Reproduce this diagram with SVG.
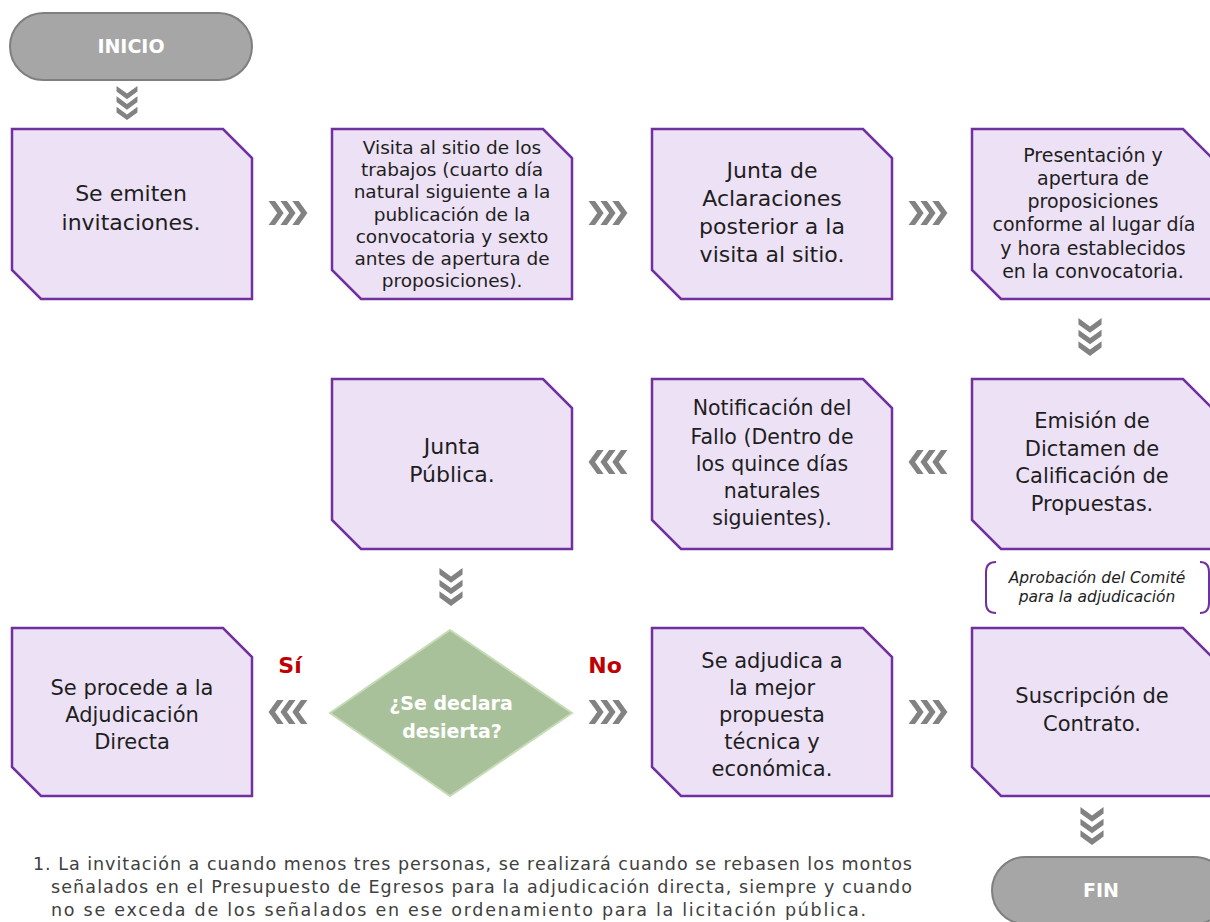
<svg xmlns="http://www.w3.org/2000/svg" xmlns:xlink="http://www.w3.org/1999/xlink" width="1210" height="922" viewBox="0 0 1210 922">
<style>
.node{fill:#ede1f5;stroke:#7030a0;stroke-width:2.5;stroke-linejoin:miter}
.t{font-family:"DejaVu Sans","Liberation Sans",sans-serif;fill:#1e1e1e;text-anchor:middle}
.term{fill:#a6a6a6;stroke:#7f7f7f;stroke-width:2}
.tt{font-family:"DejaVu Sans","Liberation Sans",sans-serif;fill:#ffffff;font-weight:bold;text-anchor:middle;font-size:19px}
.chev{fill:#828282}
.lbl{font-family:"DejaVu Sans","Liberation Sans",sans-serif;fill:#c00000;font-weight:bold;font-size:22px;text-anchor:middle}
.note{font-family:"DejaVu Sans","Liberation Sans",sans-serif;fill:#404040;font-size:17.5px}
</style>
<defs>
<g id="chev">
<polygon class="chev" points="-18,-11 -12,-11 -4,0 -12,11 -18,11 -10,0"/>
<polygon class="chev" points="-7,-11 -1,-11 7,0 -1,11 -7,11 1,0"/>
<polygon class="chev" points="4,-11 10,-11 18,0 10,11 4,11 12,0"/>
</g>
</defs>
<rect width="1210" height="922" fill="#ffffff"/>

<g id="connectors">
<use xlink:href="#chev" href="#chev" transform="translate(127,103) rotate(90) scale(0.95)"/>
<use xlink:href="#chev" href="#chev" transform="translate(288,213) scale(1.08)"/>
<use xlink:href="#chev" href="#chev" transform="translate(608,213) scale(1.08)"/>
<use xlink:href="#chev" href="#chev" transform="translate(928,213) scale(1.08)"/>
<use xlink:href="#chev" href="#chev" transform="translate(1090,337) rotate(90) scale(1.05)"/>
<use xlink:href="#chev" href="#chev" transform="translate(928,462) rotate(180) scale(1.08)"/>
<use xlink:href="#chev" href="#chev" transform="translate(608,462) rotate(180) scale(1.08)"/>
<use xlink:href="#chev" href="#chev" transform="translate(451,587) rotate(90) scale(1.05)"/>
<use xlink:href="#chev" href="#chev" transform="translate(288,712) rotate(180) scale(1.08)"/>
<use xlink:href="#chev" href="#chev" transform="translate(608,712) scale(1.08)"/>
<use xlink:href="#chev" href="#chev" transform="translate(928,712) scale(1.08)"/>
<use xlink:href="#chev" href="#chev" transform="translate(1092,826) rotate(90) scale(1.05)"/>
<text class="lbl" x="290" y="673">Sí</text>
<text class="lbl" x="605" y="673">No</text>
</g>

<g id="inicio">
<rect class="term" x="10" y="13" width="242" height="67" rx="33.5"/>
<text class="tt" x="131" y="53">INICIO</text>
</g>

<g id="n1">
<path class="node" d="M12,129 H223 L252,158 V299 H41 L12,270 Z"/>
<text class="t" font-size="22" x="131" y="201">Se emiten</text>
<text class="t" font-size="22" x="131" y="230">invitaciones.</text>
</g>

<g id="n2">
<path class="node" d="M332,129 H543 L572,158 V299 H361 L332,270 Z"/>
<g class="t" font-size="18.5">
<text x="452" y="154">Visita al sitio de los</text>
<text x="452" y="176">trabajos (cuarto día</text>
<text x="452" y="198">natural siguiente a la</text>
<text x="452" y="221">publicación de la</text>
<text x="452" y="243">convocatoria y sexto</text>
<text x="452" y="265">antes de apertura de</text>
<text x="452" y="287">proposiciones).</text>
</g>
</g>

<g id="n3">
<path class="node" d="M652,129 H863 L892,158 V299 H681 L652,270 Z"/>
<g class="t" font-size="22">
<text x="772" y="178">Junta de</text>
<text x="772" y="206">Aclaraciones</text>
<text x="772" y="234">posterior a la</text>
<text x="772" y="262">visita al sitio.</text>
</g>
</g>

<g id="n4">
<path class="node" d="M972,129 H1183 L1212,158 V299 H1001 L972,270 Z"/>
<g class="t" font-size="19">
<text x="1093" y="162">Presentación y</text>
<text x="1093" y="185">apertura de</text>
<text x="1093" y="208">proposiciones</text>
<text x="1094" y="231">conforme al lugar día</text>
<text x="1093" y="255">y hora establecidos</text>
<text x="1093" y="278">en la convocatoria.</text>
</g>
</g>

<g id="n5">
<path class="node" d="M972,379 H1183 L1212,408 V549 H1001 L972,520 Z"/>
<g class="t" font-size="21">
<text x="1092" y="428">Emisión de</text>
<text x="1092" y="456">Dictamen de</text>
<text x="1092" y="483">Calificación de</text>
<text x="1092" y="511">Propuestas.</text>
</g>
</g>

<g id="n6">
<path class="node" d="M652,379 H863 L892,408 V549 H681 L652,520 Z"/>
<g class="t" font-size="20.5">
<text x="772" y="415">Notificación del</text>
<text x="772" y="444">Fallo (Dentro de</text>
<text x="772" y="471">los quince días</text>
<text x="772" y="498">naturales</text>
<text x="772" y="525">siguientes).</text>
</g>
</g>

<g id="n7">
<path class="node" d="M332,379 H543 L572,408 V549 H361 L332,520 Z"/>
<g class="t" font-size="22">
<text x="452" y="454">Junta</text>
<text x="452" y="482">Pública.</text>
</g>
</g>

<g id="decision">
<polygon points="450,630 572,713 450,796 330,713" fill="#a9c19b" stroke="#c6dcb6" stroke-width="2"/>
<text class="tt" x="451" y="710">¿Se declara</text>
<text class="tt" x="452" y="738">desierta?</text>
</g>

<g id="n8">
<path class="node" d="M12,628 H223 L252,657 V796 H41 L12,767 Z"/>
<g class="t" font-size="21">
<text x="132" y="695">Se procede a la</text>
<text x="132" y="722">Adjudicación</text>
<text x="132" y="749">Directa</text>
</g>
</g>

<g id="n9">
<path class="node" d="M652,628 H863 L892,657 V796 H681 L652,767 Z"/>
<g class="t" font-size="21">
<text x="772" y="668">Se adjudica a</text>
<text x="772" y="695">la mejor</text>
<text x="772" y="722">propuesta</text>
<text x="772" y="749">técnica y</text>
<text x="772" y="776">económica.</text>
</g>
</g>

<g id="n10">
<path class="node" d="M972,628 H1183 L1212,657 V796 H1001 L972,767 Z"/>
<g class="t" font-size="21">
<text x="1092" y="703">Suscripción de</text>
<text x="1092" y="731">Contrato.</text>
</g>
</g>

<g id="comment">
<path d="M996,562 Q986,562 986,572 V603 Q986,613 996,613" fill="none" stroke="#7030a0" stroke-width="2"/>
<path d="M1200,562 Q1209,562 1209,572 V603 Q1209,613 1200,613" fill="none" stroke="#7030a0" stroke-width="2"/>
<text class="t" font-size="15.5" font-style="italic" x="1097" y="583">Aprobación del Comité</text>
<text class="t" font-size="15.5" font-style="italic" x="1097" y="602">para la adjudicación</text>
</g>

<g id="fin">
<rect class="term" x="992" y="857" width="236" height="67" rx="33.5"/>
<text class="tt" x="1101" y="897">FIN</text>
</g>

<g id="footnote">
<text class="note" x="33" y="870" textLength="879" lengthAdjust="spacing">1. La invitación a cuando menos tres personas, se realizará cuando se rebasen los montos</text>
<text class="note" x="51" y="893" textLength="861" lengthAdjust="spacing">señalados en el Presupuesto de Egresos para la adjudicación directa, siempre y cuando</text>
<text class="note" x="51" y="916" textLength="815" lengthAdjust="spacing">no se exceda de los señalados en ese ordenamiento para la licitación pública.</text>
</g>
</svg>
